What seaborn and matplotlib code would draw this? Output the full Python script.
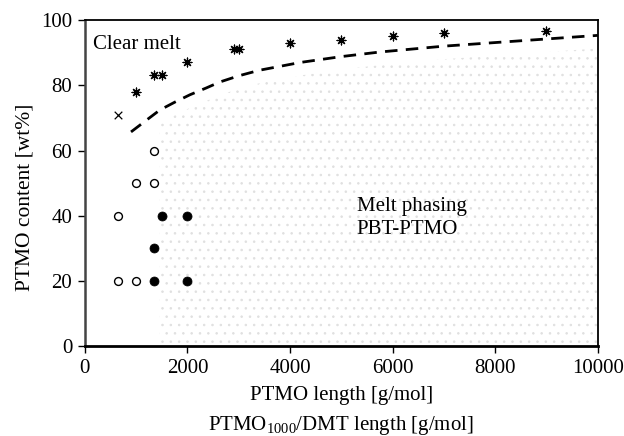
"""Phase diagram: PTMO content vs PTMO length (clear melt / melt phasing)."""

import matplotlib

matplotlib.use("Agg")

import matplotlib.pyplot as plt
import pandas as pd
import seaborn as sns

# clear melt points (asterisks)
CLEAR_X = [1000, 1350, 1500, 2000, 2900, 3000, 4000, 5000, 6000, 7000, 9000]
CLEAR_Y = [78, 83, 83, 87, 91, 91, 93, 94, 95, 96, 96.5]
# single cross
CROSS_X = [650]
CROSS_Y = [71]
# open circles
OPEN_X = [650, 650, 1000, 1000, 1350, 1350]
OPEN_Y = [40, 20, 20, 50, 50, 60]
# filled circles
FILLED_X = [1350, 1350, 1500, 2000, 2000]
FILLED_Y = [20, 30, 40, 40, 20]
# boundary (dashed)
CURVE_X = [900, 1200, 1460, 1750, 2050, 2370, 2630, 3000, 3400, 4200,
           5000, 5750, 7000, 8000, 9000, 10000]
CURVE_Y = [65.7, 69.3, 72.4, 74.8, 77.1, 79.2, 81.0, 82.9, 84.6, 87.0,
           88.8, 90.2, 92.0, 93.1, 94.2, 95.3]

X_TICKS = [0, 2000, 4000, 6000, 8000, 10000]
Y_TICKS = [0, 20, 40, 60, 80, 100]

sns.set_theme(style="ticks")
plt.rcParams["font.family"] = ["Liberation Serif", "DejaVu Serif"]
plt.rcParams["mathtext.fontset"] = "custom"
plt.rcParams["mathtext.rm"] = "Liberation Serif"
plt.rcParams["hatch.linewidth"] = 0.6
plt.rcParams["text.color"] = "black"
plt.rcParams["axes.labelcolor"] = "black"
plt.rcParams["xtick.color"] = "black"
plt.rcParams["ytick.color"] = "black"

fig = plt.figure(figsize=(6.24, 4.36), dpi=100)
ax = fig.add_axes([0.136, 0.206, 0.822, 0.748])

curve = pd.DataFrame({"x": CURVE_X, "y": CURVE_Y})

# stippled melt-phasing region below the boundary
shade = curve[curve["x"] >= 1460]
ax.fill_between(shade["x"], 0, shade["y"] - 4, facecolor="none",
                edgecolor="#e0e0e0", hatch="..", linewidth=0, zorder=0)

sns.lineplot(data=curve, x="x", y="y", ax=ax, color="black", lw=2,
             linestyle=(0, (4.5, 3)), zorder=2)

sns.scatterplot(x=CLEAR_X, y=CLEAR_Y, ax=ax, marker=(8, 2, 0), s=40,
                color="black", linewidth=0.9, zorder=3)
sns.scatterplot(x=CROSS_X, y=CROSS_Y, ax=ax, marker="x", s=30,
                color="black", linewidth=0.9, zorder=3)
sns.scatterplot(x=OPEN_X, y=OPEN_Y, ax=ax, marker="o", s=32,
                facecolor="white", edgecolor="black", linewidth=1.0, zorder=3)
sns.scatterplot(x=FILLED_X, y=FILLED_Y, ax=ax, marker="o", s=42,
                color="black", edgecolor="black", zorder=3)

ax.set_xlim(0, 10000)
ax.set_ylim(0, 100)
ax.set_xticks(X_TICKS)
ax.set_yticks(Y_TICKS)
ax.tick_params(labelsize=15, length=5, width=1, direction="out",
               color="black", labelcolor="black", pad=4)
for side in ["left", "bottom", "top", "right"]:
    ax.spines[side].set_visible(True)
    ax.spines[side].set_color("black")
    ax.spines[side].set_linewidth(1.3)
ax.spines["left"].set_color("#444444")
ax.spines["left"].set_linewidth(1.8)
ax.spines["bottom"].set_linewidth(2)

# two-line x label, baselines placed as in the original
ax.set_xlabel("PTMO length [g/mol]", fontsize=15)
ax.xaxis.label.set_va("baseline")
ax.xaxis.set_label_coords(0.5, (1 - 400 / 436 - 0.206) / 0.748)
fig.text(0.5 * (0.136 + 0.958), 1 - 430 / 436,
         "PTMO$\\mathregular{_{1000}}$/DMT length [g/mol]",
         fontsize=15, ha="center", va="baseline")
ax.set_ylabel("PTMO content [wt%]", fontsize=15.5)
ax.yaxis.set_label_coords(-0.098, 0.457)

ax.text(160, 92.5, "Clear melt", fontsize=15, ha="left", va="center")
ax.text(5300, 39.4, "Melt phasing\nPBT-PTMO", fontsize=15, ha="left",
        va="center", linespacing=1.3)

fig.savefig("out.png", dpi=100)
